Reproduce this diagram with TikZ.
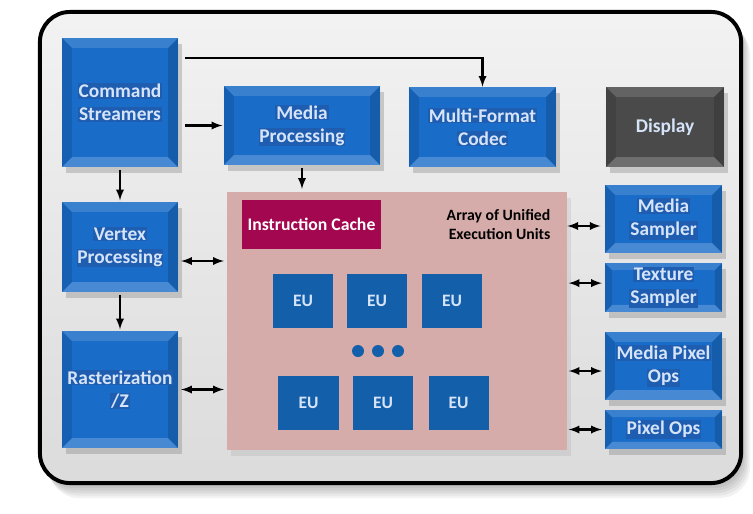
\documentclass[tikz,border=0pt]{standalone}
\usepackage{fontspec}
\setmainfont{Carlito}
\usepackage{xcolor}
\usepackage{tikz}
\usetikzlibrary{shadows,positioning,calc}

\definecolor{boxblue}{HTML}{196CC8}
\definecolor{hlblue}{HTML}{1E5DB0}
\definecolor{eublue}{HTML}{145FAA}
\definecolor{cachered}{HTML}{A3074F}
\definecolor{arraypink}{HTML}{D6ACAA}
\definecolor{darkgrey}{HTML}{4A4A4A}
\definecolor{boxtext}{HTML}{D6E4FA}

% highlighted line of box text
\newcommand{\hl}[1]{{\fboxsep=0.6pt\colorbox{hlblue}{#1}}}

\tikzset{
	bevel/.style={path picture={
		\fill[white,opacity=.14] (path picture bounding box.north west) -- (path picture bounding box.north east) -- ([shift={(-#1,-#1)}]path picture bounding box.north east) -- ([shift={(#1,-#1)}]path picture bounding box.north west) -- cycle;
		\fill[white,opacity=.2] (path picture bounding box.south west) -- (path picture bounding box.south east) -- ([shift={(-#1,#1)}]path picture bounding box.south east) -- ([shift={(#1,#1)}]path picture bounding box.south west) -- cycle;
		\fill[black,opacity=.14] (path picture bounding box.north east) -- (path picture bounding box.south east) -- ([shift={(-#1,#1)}]path picture bounding box.south east) -- ([shift={(-#1,-#1)}]path picture bounding box.north east) -- cycle;
		\fill[black,opacity=.1] (path picture bounding box.north west) -- (path picture bounding box.south west) -- ([shift={(#1,#1)}]path picture bounding box.south west) -- ([shift={(#1,-#1)}]path picture bounding box.north west) -- cycle;
	}},
	bevel/.default=7pt,
	unit/.style={fill=boxblue, bevel, text=boxtext, align=center, inner sep=0pt,
		font=\fontsize{13.8}{16.5}\selectfont\bfseries,
		drop shadow={opacity=.35,shadow xshift=3pt,shadow yshift=-4pt}},
	eu/.style={fill=eublue, text=boxtext, minimum width=1.5cm, minimum height=1.35cm,
		font=\fontsize{12.4}{14}\selectfont\bfseries},
	link/.style={-latex, line width=1.6pt},
	both/.style={latex-latex, line width=1.6pt},
}

\begin{document}
\begin{tikzpicture}[x=0.025cm,y=-0.025cm]
	\useasboundingbox (0,0) rectangle (753,513);
	% soft shadow of the frame
	\foreach \s in {1,...,6}
		\fill[black,opacity=.05,rounded corners=0.75cm] (40+\s*1.5,12+\s*2) rectangle (741+\s*1.5,483+\s*2.5);
	\node[draw=black, line width=2.8pt, rounded corners=0.75cm, top color=gray!10, bottom color=gray!28,
		minimum width=17.525cm, minimum height=11.775cm] (chip) at (390.5,247.5) {};

	% execution unit array
	\node[fill=arraypink, minimum width=8.5cm, minimum height=6.45cm,
		drop shadow={opacity=.15,shadow xshift=3pt,shadow yshift=-4pt}] (array) at (397,321) {};
	\node[fill=cachered, text=white, minimum width=3.475cm, minimum height=1.225cm,
		font=\fontsize{12.6}{15}\selectfont\bfseries] (icache) at (311.5,224.5) {Instruction Cache};
	\node[anchor=east, align=right, font=\fontsize{11.2}{13}\selectfont\bfseries] (arraylabel)
		at ([xshift=-.3cm]array.east |- icache.east) {Array of Unified\\Execution Units};
	\node[eu] (eu1) at (303,301) {EU};
	\node[eu] (eu2) at (377,301) {EU};
	\node[eu] (eu3) at (452,301) {EU};
	\node[eu] (eu4) at (308.5,403) {EU};
	\node[eu] (eu5) at (383,403) {EU};
	\node[eu] (eu6) at (458.5,403) {EU};
	\foreach \x in {358,378,398}
		\fill[eublue] (\x,351) circle (0.15cm);

	% front end
	\node[unit, minimum width=2.9cm, minimum height=3.225cm] (cmd) at (120,102.5) {\hl{Command}\\\hl{Streamers}};
	\node[unit, minimum width=3.9cm, minimum height=1.975cm] (media) at (302,125.5) {\hl{Media}\\\hl{Processing}};
	\node[unit, minimum width=3.675cm, minimum height=2cm] (codec) at (482.5,127) {\hl{Multi-Format}\\\hl{Codec}};
	\node[unit, fill=darkgrey, minimum width=2.95cm, minimum height=2cm] (display) at (665,127) {Display};
	\node[unit, minimum width=2.9cm, minimum height=2.25cm] (vertex) at (120,247) {\hl{Vertex}\\\hl{Processing}};
	\node[unit, minimum width=2.9cm, minimum height=2.925cm] (raster) at (120,389.5) {\hl{Rasterization}\\\hl{/Z}};

	% samplers and pixel back end
	\node[unit, minimum width=2.925cm, minimum height=1.7cm] (msampler) at (663.5,219) {\hl{Media}\\\hl{Sampler}};
	\node[unit, bevel=5pt, minimum width=2.925cm, minimum height=1.225cm] (tsampler) at (663.5,287.5) {\hl{Texture}\\\hl{Sampler}};
	\node[unit, minimum width=2.925cm, minimum height=1.7cm] (mpix) at (663.5,366) {\hl{Media Pixel}\\\hl{Ops}};
	\node[unit, bevel=5pt, minimum width=2.925cm, minimum height=0.975cm] (pix) at (663.5,429.5) {\hl{Pixel Ops}};

	% connections
	\draw[link, shorten <=5pt, shorten >=1pt] (cmd.east |- media.west) -- (media.west);
	\draw[link, shorten <=5pt] ([yshift=-.5cm]cmd.north east) -| (codec.north);
	\draw[link, shorten <=2pt, shorten >=1pt] (cmd.south) -- (vertex.north);
	\draw[link, shorten <=2pt, shorten >=2pt] (media.south) -- (media.south |- array.north);
	\draw[link, shorten <=2pt, shorten >=1pt] (vertex.south) -- (raster.north);
	\draw[both, shorten <=2pt, shorten >=2pt] ([yshift=-.35cm]vertex.east) -- ([yshift=-.35cm]vertex.east -| array.west);
	\draw[both, shorten <=2pt, shorten >=2pt] (raster.east) -- (raster.east -| array.west);
	\draw[both, shorten >=3pt] ([yshift=-.175cm]msampler.west -| array.east) -- ([yshift=-.175cm]msampler.west);
	\draw[both, shorten <=1pt, shorten >=2pt] ([yshift=.11cm]tsampler.west -| array.east) -- ([yshift=.11cm]tsampler.west);
	\draw[both, shorten <=1pt, shorten >=2pt] ([yshift=-.125cm]mpix.west -| array.east) -- ([yshift=-.125cm]mpix.west);
	\draw[both, shorten <=1pt, shorten >=2pt] (pix.west -| array.east) -- (pix.west);
\end{tikzpicture}
\end{document}
